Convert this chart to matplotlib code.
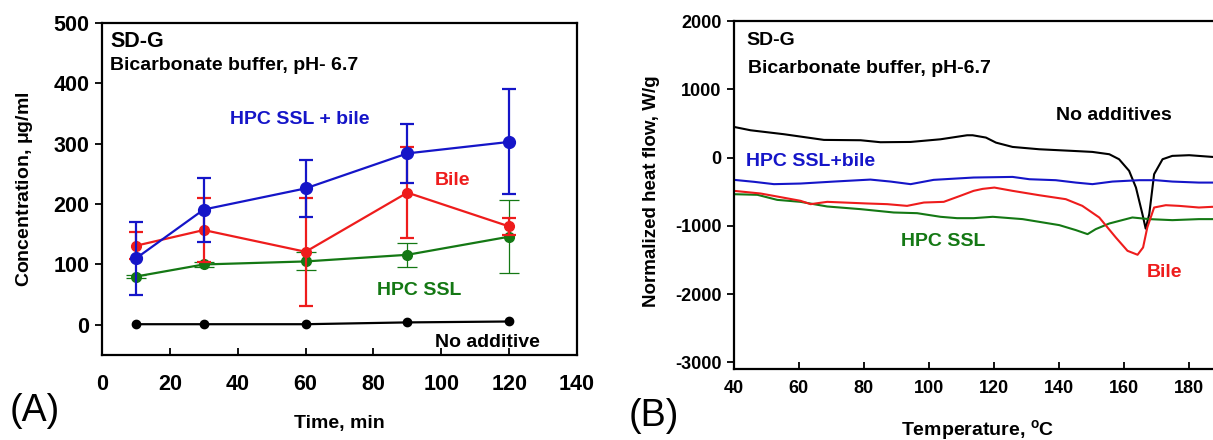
import matplotlib
matplotlib.use("Agg")
import matplotlib.pyplot as plt

plt.rcParams['font.family'] = ['Liberation Sans', 'DejaVu Sans']
plt.rcParams['mathtext.fontset'] = 'custom'
plt.rcParams['mathtext.rm'] = 'Liberation Sans'
plt.rcParams['axes.unicode_minus'] = False

# ---------------- Panel A data ----------------
time_min = [10, 30, 60, 90, 120]
bile_hpc_mean = [110, 191, 226, 284, 303]
bile_hpc_err = [60, 53, 47, 49, 87]
bile_mean = [131, 157, 121, 219, 163]
bile_err = [22, 53, 89, 76, 14]
hpc_mean = [80, 100, 105, 116, 146]
hpc_err = [3, 4, 15, 20, 60]
none_mean = [1, 1, 1, 4, 5.5]

# ---------------- Panel B data ----------------
t_none = [40, 45.1, 55.4, 67.7, 79, 85.1, 94.4, 103.6, 111.8, 113.5, 117.6, 120.7,
          125.8, 134, 144.3, 150.4, 155.6, 158.6, 161.7, 163.8, 165.8, 166.8, 167.9,
          169.4, 172, 175, 180.2, 187.3, 190]
hf_none = [449, 400, 342, 259, 254, 225, 229, 268, 327, 327, 293, 219,
           156, 122, 98, 83, 49, -24, -194, -438, -828, -1040, -828,
           -243, -24, 25, 35, 10, 8]

t_hpcbile = [40, 46.2, 52.3, 60.5, 70.8, 82, 88.2, 94.4, 101.5, 113.8, 125.8, 131,
             139.1, 145.3, 150.4, 156.6, 164.8, 169.9, 175, 183.2, 190]
hf_hpcbile = [-326, -355, -389, -380, -351, -322, -351, -389, -326, -292, -283, -317,
              -331, -366, -389, -351, -331, -331, -351, -366, -366]

t_bile = [40, 48.2, 53.3, 60.5, 63.6, 68.7, 81, 87.2, 93.3, 98.5, 104.6, 109.7,
          113.8, 116.6, 120.2, 125.8, 134, 142.2, 147.3, 152.5, 157.6, 161.2,
          164.3, 166, 167.3, 169.4, 173, 177.1, 183.2, 187.3, 190]
hf_bile = [-487, -526, -570, -633, -682, -648, -672, -682, -707, -658, -648, -560,
           -487, -458, -439, -487, -551, -609, -707, -877, -1170, -1365,
           -1423, -1316, -1023, -731, -697, -707, -731, -721, -721]

t_hpc = [40, 47.2, 53.3, 60.5, 68.7, 79, 89.2, 96.4, 103.6, 108.7, 113.8, 119.7,
         128.9, 140.2, 145.3, 148.9, 151.4, 155.6, 162.7, 167.9, 175, 183.2, 190]
hf_hpc = [-536, -545, -619, -648, -716, -755, -804, -814, -867, -887, -887, -867,
          -901, -989, -1062, -1121, -1048, -965, -877, -901, -916, -901, -901]

BLUE = '#1515c8'
RED = '#ee1c1c'
GREEN = '#147814'
BLACK = '#000000'

W, H = 1213, 440
fig = plt.figure(figsize=(W / 100, H / 100), dpi=100)

# ---------------- Panel A ----------------
axA = fig.add_axes([102 / W, (H - 355) / H, 475 / W, 332 / H])
axA.plot(time_min, none_mean, '-o', color=BLACK, lw=1.6, ms=6, zorder=3)
axA.errorbar(time_min, hpc_mean, yerr=hpc_err, fmt='-o', color=GREEN, lw=1.6, ms=7,
             elinewidth=0.9, capsize=7, capthick=0.9, zorder=4)
axA.errorbar(time_min, bile_mean, yerr=bile_err, fmt='-o', color=RED, lw=1.6, ms=7,
             elinewidth=1.6, capsize=5, capthick=1.6, zorder=5)
axA.errorbar(time_min, bile_hpc_mean, yerr=bile_hpc_err, fmt='-o', color=BLUE, lw=1.6, ms=8.5,
             elinewidth=1.6, capsize=5, capthick=1.6, zorder=6)
axA.set_xlim(0, 140)
axA.set_ylim(-50, 500)
axA.set_xticks(range(0, 141, 20))
axA.set_yticks(range(0, 501, 100))
axA.tick_params(axis='x', direction='in', length=5, width=1.3, labelsize=15.5, pad=14)
axA.tick_params(axis='y', direction='out', length=5, width=1.3, labelsize=15.5, pad=4)
for lab in axA.get_xticklabels() + axA.get_yticklabels():
    lab.set_fontweight('bold')
for s in axA.spines.values():
    s.set_linewidth(1.6)
axA.set_xlabel('Time, min', fontsize=14, fontweight='bold', va='center')
axA.xaxis.set_label_coords(0.5, -0.205)
axA.set_ylabel('Concentration, $\\mathregular{\\mu g/ml}$', fontsize=14, fontweight='bold', va='center')
axA.yaxis.set_label_coords(-0.164, 0.5)

axA.text(0.017, 0.943, 'SD-G', transform=axA.transAxes, fontsize=15.5, fontweight='bold', va='center')
axA.text(0.017, 0.873, 'Bicarbonate buffer, pH- 6.7', transform=axA.transAxes, fontsize=14,
         fontweight='bold', va='center')
axA.text(0.269, 0.708, 'HPC SSL + bile', transform=axA.transAxes, fontsize=14, fontweight='bold',
         color=BLUE, va='center')
axA.text(0.701, 0.527, 'Bile', transform=axA.transAxes, fontsize=14, fontweight='bold',
         color=RED, va='center')
axA.text(0.579, 0.193, 'HPC SSL', transform=axA.transAxes, fontsize=14, fontweight='bold',
         color=GREEN, va='center')
axA.text(0.701, 0.039, 'No additive', transform=axA.transAxes, fontsize=14, fontweight='bold',
         color=BLACK, va='center')

fig.text(35 / W, 1 - 411 / H, '(A)', fontsize=27, ha='center', va='center')

# ---------------- Panel B ----------------
axB = fig.add_axes([734 / W, (H - 369.3) / H, 487 / W, 348.3 / H])
axB.plot(t_none, hf_none, color=BLACK, lw=1.5)
axB.plot(t_hpcbile, hf_hpcbile, color=BLUE, lw=1.5)
axB.plot(t_hpc, hf_hpc, color=GREEN, lw=1.5)
axB.plot(t_bile, hf_bile, color=RED, lw=1.5)
axB.set_xlim(40, 190)
axB.set_ylim(-3100, 2000)
axB.set_xticks(range(40, 181, 20))
axB.set_yticks(range(-3000, 2001, 1000))
axB.tick_params(axis='x', direction='in', length=5, width=1.3, labelsize=13, pad=8)
axB.tick_params(axis='y', direction='out', length=5, width=1.3, labelsize=13, pad=4)
for lab in axB.get_xticklabels() + axB.get_yticklabels():
    lab.set_fontweight('bold')
for s in axB.spines.values():
    s.set_linewidth(1.6)
axB.set_xlabel('Temperature, $\\mathregular{^o}$C', fontsize=14, fontweight='bold', va='center')
axB.xaxis.set_label_coords(0.501, -0.174)
axB.set_ylabel('Normalized heat flow, W/g', fontsize=13.5, fontweight='bold', va='center')
axB.yaxis.set_label_coords(-0.170, 0.512)

axB.text(0.025, 0.945, 'SD-G', transform=axB.transAxes, fontsize=14, fontweight='bold', va='center')
axB.text(0.029, 0.865, 'Bicarbonate buffer, pH-6.7', transform=axB.transAxes, fontsize=14,
         fontweight='bold', va='center')
axB.text(0.661, 0.730, 'No additives', transform=axB.transAxes, fontsize=14, fontweight='bold',
         color=BLACK, va='center')
axB.text(0.025, 0.598, 'HPC SSL+bile', transform=axB.transAxes, fontsize=14, fontweight='bold',
         color=BLUE, va='center')
axB.text(0.343, 0.366, 'HPC SSL', transform=axB.transAxes, fontsize=14, fontweight='bold',
         color=GREEN, va='center')
axB.text(0.848, 0.277, 'Bile', transform=axB.transAxes, fontsize=14, fontweight='bold',
         color=RED, va='center')

fig.text(654 / W, 1 - 416 / H, '(B)', fontsize=27, ha='center', va='center')

fig.savefig('out.png', dpi=100)
